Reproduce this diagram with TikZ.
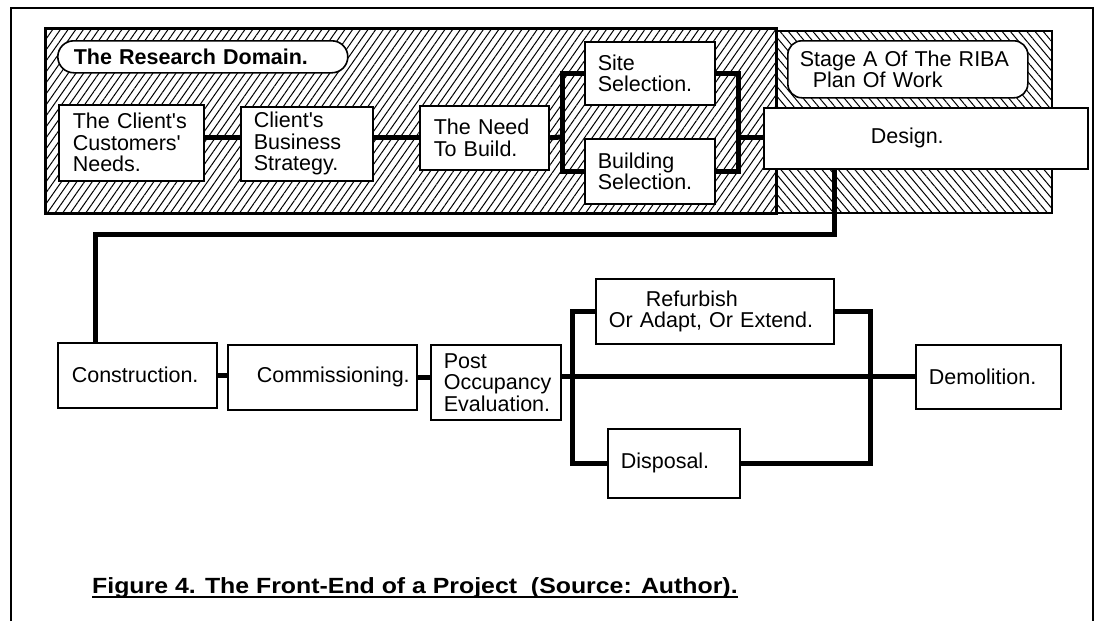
\documentclass[tikz,border=0pt]{standalone}
\usepackage{fontspec}
\usepackage{graphicx}
\setmainfont{Liberation Sans}
\usetikzlibrary{patterns.meta}
\newcommand\boxfont{\fontsize{21.5}{21.5}\selectfont}
\newcommand\capfont{\fontsize{22}{22}\selectfont\bfseries}
\newcommand\apos{\textquotesingle}
\begin{document}
\begin{tikzpicture}[x=1pt,y=-1pt,
  frame/.style={line width=2.6pt},
  conn/.style={line width=5pt},
  bx/.style={draw, line width=1.6pt, fill=white, anchor=north west,
             align=left, inner ysep=0pt, font=\boxfont},
  pill/.style={bx, rounded corners=#1},
  slashfill/.style={pattern={Lines[angle=55,distance=6.3pt,line width=1pt]}},
  backfill/.style={pattern={Lines[angle=-50,distance=6.3pt,line width=1pt]}}]
\useasboundingbox (0,0) rectangle (1102,621);

% outer frame (open at the foot of the page)
\draw[frame] (11,621) -- (11,8) -- (1093,8) -- (1093,621);

% hatched domains
\path[slashfill] (45,28) rectangle (776,213);
\path[backfill] (776,31) rectangle (1052,213);
\draw[line width=2pt] (776,31) rectangle (1052,213);
\draw[line width=3pt] (45,28) rectangle (776,213);

% upper row
\node[pill=16pt, font=\boxfont\bfseries, text width=258pt, inner xsep=16pt, minimum height=32pt]
  (dom) at (57,40) {The Research Domain.};
\node[bx, text width=117pt, inner xsep=14pt, minimum height=76pt]
  (ccn) at (58,104) {The Client\apos s\\Customers\apos\\Needs.};
\node[bx, text width=106pt, inner xsep=13pt, minimum height=74pt]
  (cbs) at (240,106) {Client\apos s\\Business\\Strategy.};
\node[bx, text width=101pt, inner xsep=14pt, minimum height=64pt]
  (need) at (419,105) {The Need\\To Build.};
\node[bx, text width=104pt, inner xsep=13pt, minimum height=63pt]
  (site) at (584,41) {Site\\Selection.};
\node[bx, text width=104pt, inner xsep=13pt, minimum height=65pt]
  (bldg) at (584,138) {Building\\Selection.};
\node[pill=14pt, text width=216pt, inner xsep=12pt, minimum height=57pt,
      font=\fontsize{21.5}{20}\selectfont]
  (stage) at (787,40) {Stage A Of The RIBA\\\hspace*{13pt}Plan Of Work};
\node[bx, text width=110pt, inner xsep=107pt, minimum height=61pt]
  (design) at (763,107) {Design.};

% lower row
\node[bx, text width=131pt, inner xsep=14pt, minimum height=65pt]
  (cons) at (57,342) {Construction.};
\node[bx, text width=131pt, inner xsep=29pt, minimum height=65pt]
  (comm) at (227,344) {Commissioning.};
\node[bx, text width=104pt, inner xsep=13pt, minimum height=75pt]
  (post) at (430,344) {Post\\Occupancy\\Evaluation.};
\node[bx, text width=212pt, inner xsep=13pt, minimum height=65pt]
  (refurb) at (595,278) {\hspace*{37pt}Refurbish\\Or Adapt, Or Extend.};
\node[bx, text width=106pt, inner xsep=13pt, minimum height=69pt]
  (disp) at (607,428) {Disposal.};
\node[bx, text width=119pt, inner xsep=13pt, minimum height=64pt]
  (demo) at (915,344) {Demolition.};

% junction points of the connectors
\coordinate (lb) at (562,137);
\coordinate (rb) at (738,137);
\coordinate (dturn) at (834,234);
\coordinate (cturn) at (95,234);
\coordinate (lb2) at (572,376);
\coordinate (rb2) at (870,376);

% research chain
\draw[conn] (ccn.east |- need.west) -- (cbs.west |- need.west);
\draw[conn] (cbs.east |- need.west) -- (need.west);
\draw[conn] (need.east) -- (lb);
\draw[conn] (site.west) -| (lb) |- (bldg.west);
\draw[conn] (site.east) -| (rb) |- (bldg.east);
\draw[conn] (rb) -- (rb -| design.west);

% design down to construction
\draw[conn] (dturn |- design.south) -- (dturn) -- (cturn) -- (cturn |- cons.north);

% life-cycle chain
\draw[conn] (cons.east) -- (cons.east -| comm.west);
\draw[conn] (comm.east) -- (comm.east -| post.west);
\draw[conn] (lb2 -| post.east) -- (demo.west |- lb2);
\draw[conn] (refurb.west) -| (lb2) |- (disp.west);
\draw[conn] (refurb.east) -| (rb2) |- (disp.east);

% caption
\node[anchor=base west, inner sep=0pt, font=\capfont] (cap) at (92,593)
  {\scalebox{1.13}[1]{Figure 4. The Front-End of a Project\ \ (Source: Author).}};
\draw[line width=1.6pt] ([yshift=-4pt]cap.base west) -- ([yshift=-4pt]cap.base east);
\end{tikzpicture}
\end{document}
